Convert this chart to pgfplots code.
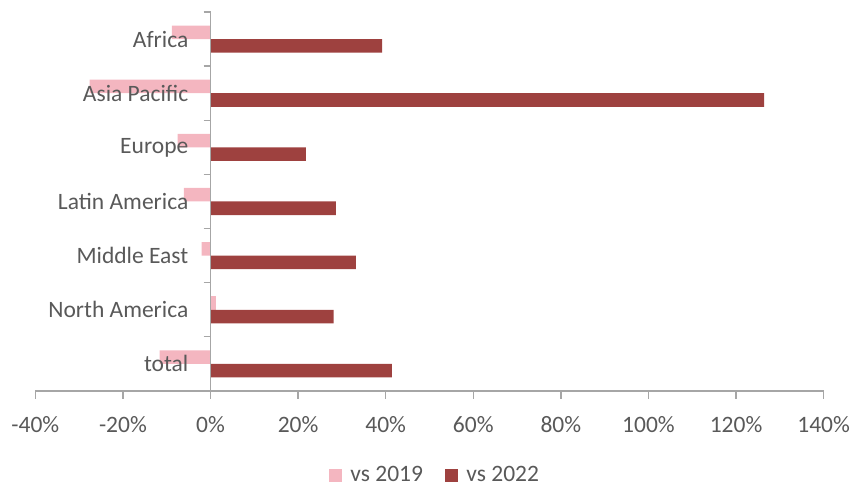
\documentclass[border=0pt]{standalone}
\usepackage{fontspec}
\setmainfont{Carlito}
\usepackage{pgfplots}
\pgfplotsset{compat=1.18}
\definecolor{pinkbar}{RGB}{244,182,192}
\definecolor{redbar}{RGB}{158,65,63}
\definecolor{axgray}{RGB}{166,166,166}
\definecolor{txtgray}{RGB}{89,89,89}
\begin{document}
\fontsize{23.5}{27}\selectfont
\begin{tikzpicture}
\begin{axis}[
  scale only axis, width=788.4pt, height=379pt,
  xmin=-40, xmax=140, ymin=-0.5, ymax=6.5,
  axis x line=bottom, axis y line=center,
  axis on top,
  axis line style={-, draw=axgray, line width=1.3pt},
  xtick={-40,-20,...,140},
  xticklabel={\pgfmathprintnumber{\tick}\%},
  /pgf/number format/assume math mode=true,
  tick align=outside,
  major tick length=8pt, minor tick length=7pt,
  tick style={draw=axgray, line width=1.3pt},
  ytick={0,1,2,3,4,5,6},
  yticklabels={total,North America,Middle East,Latin America,Europe,Asia Pacific,Africa},
  minor ytick={-0.5,0.5,...,6.5},
  every major y tick/.style={draw=none},
  x tick label style={font=\fontsize{23.5}{27}\selectfont, text=txtgray, inner sep=0pt, yshift=-17pt},
  y tick label style={font=\fontsize{23.5}{27}\selectfont, text=txtgray, inner sep=0pt, xshift=-14pt},
  clip=false,
  legend style={at={(0.5057,-0.223)}, anchor=center, legend columns=2, draw=none,
    font=\fontsize{23.5}{27}\selectfont, text=txtgray, nodes={inner sep=0pt},
    /tikz/every odd column/.append style={column sep=8.4pt},
    /tikz/every even column/.append style={column sep=22pt}},
  legend image code/.code={\fill[#1] (0pt,-6.5pt) rectangle (13pt,6.5pt);},
]
\addplot[xbar, fill=pinkbar, draw=none, bar width=0.25, bar shift=0.125] coordinates {(-11.6,0) (1.2,1) (-2.0,2) (-6.1,3) (-7.5,4) (-27.6,5) (-8.8,6)};
\addplot[xbar, fill=redbar, draw=none, bar width=0.25, bar shift=-0.125] coordinates {(41.4,0) (28.1,1) (33.2,2) (28.6,3) (21.8,4) (126.4,5) (39.2,6)};
\legend{vs 2019, vs 2022}
\path (rel axis cs:-0.0448,-0.2507) rectangle (rel axis cs:1.0334,1.0317);
\end{axis}
\end{tikzpicture}
\end{document}
